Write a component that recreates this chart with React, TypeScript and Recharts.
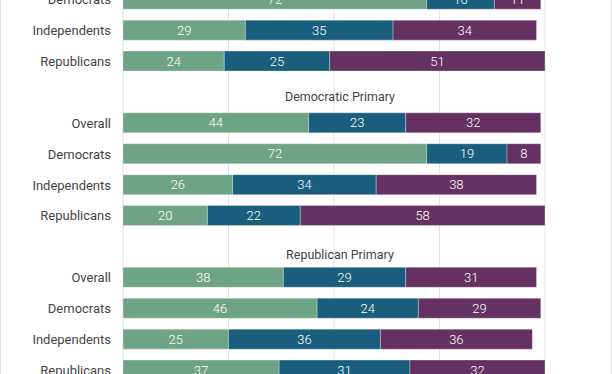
import React from "react";
import { BarChart, Bar, XAxis, YAxis, CartesianGrid, LabelList } from "recharts";

const rowLabels = [
  "Democrats", "Independents", "Republicans",
  "",
  "Overall", "Democrats", "Independents", "Republicans",
  "",
  "Overall", "Democrats", "Independents", "Republicans",
];
const groupTitles: Record<number, string> = { 3: "Democratic Primary", 8: "Republican Primary" };
const seriesA = [72, 29, 24, null, 44, 72, 26, 20, null, 38, 46, 25, 37];
const seriesB = [16, 35, 25, null, 23, 19, 34, 22, null, 29, 24, 36, 31];
const seriesC = [11, 34, 51, null, 32, 8, 38, 58, null, 31, 29, 36, 32];
const xTicks = [0, 25, 50, 75, 100];

const data = rowLabels.map((label, i) => ({
  id: `r${i}`,
  label,
  a: seriesA[i],
  b: seriesB[i],
  c: seriesC[i],
}));

const COLORS = { a: "#6fa387", b: "#1a5e7e", c: "#653062" };
const FONT = "Roboto, 'Noto Sans', sans-serif";

const PLOT_LEFT = 123;
const PLOT_RIGHT_MARGIN = 67;
const BAND = 30.9;
const CHART_TOP = -40;
const PLOT_TOP = -15.75 - CHART_TOP;
const CHART_H = PLOT_TOP + BAND * rowLabels.length + 5;
const TITLE_DY: Record<number, number> = { 3: 4.5, 8: 8 };

const Tick = (props: any) => {
  const { y, index } = props;
  const title = groupTitles[index];
  if (title) {
    return (
      <text x={340} y={y + (TITLE_DY[index] ?? 6)} textAnchor="middle" dominantBaseline="central" fill="#444" fontSize={12.5} fontFamily={FONT}>
        {title}
      </text>
    );
  }
  return (
    <text x={111} y={y} textAnchor="end" dominantBaseline="central" fill="#444" fontSize={13} fontFamily={FONT}>
      {rowLabels[index]}
    </text>
  );
};

const labelProps = { position: "center" as const, fill: "#ffffff", fontSize: 13, fontWeight: 300, fontFamily: FONT };

export default function App() {
  return (
    <div style={{ position: "absolute", left: 0, top: 0, width: 612, height: 374, overflow: "hidden", background: "#fff" }}>
      <div style={{ position: "absolute", left: 0, top: CHART_TOP }}>
        <BarChart
          width={612}
          height={CHART_H}
          data={data}
          layout="vertical"
          margin={{ top: PLOT_TOP, right: PLOT_RIGHT_MARGIN, bottom: 5, left: 0 }}
          barSize={20}
        >
          <CartesianGrid horizontal={false} vertical={true} stroke="#e2e2e2" />
          <XAxis type="number" domain={[0, 100]} ticks={xTicks} hide />
          <YAxis type="category" dataKey="id" width={PLOT_LEFT} axisLine={false} tickLine={false} tick={<Tick />} interval={0} />
          <Bar dataKey="a" stackId="s" fill={COLORS.a} stroke="rgba(255,255,255,0.3)" isAnimationActive={false}>
            <LabelList dataKey="a" {...labelProps} />
          </Bar>
          <Bar dataKey="b" stackId="s" fill={COLORS.b} stroke="rgba(255,255,255,0.3)" isAnimationActive={false}>
            <LabelList dataKey="b" {...labelProps} />
          </Bar>
          <Bar dataKey="c" stackId="s" fill={COLORS.c} stroke="rgba(255,255,255,0.3)" isAnimationActive={false}>
            <LabelList dataKey="c" {...labelProps} />
          </Bar>
        </BarChart>
      </div>
      <div style={{ position: "absolute", left: 0, top: 0, width: 1, height: 374, background: "#e0e0e0" }} />
      <div style={{ position: "absolute", left: 611, top: 0, width: 1, height: 374, background: "#e0e0e0" }} />
    </div>
  );
}
